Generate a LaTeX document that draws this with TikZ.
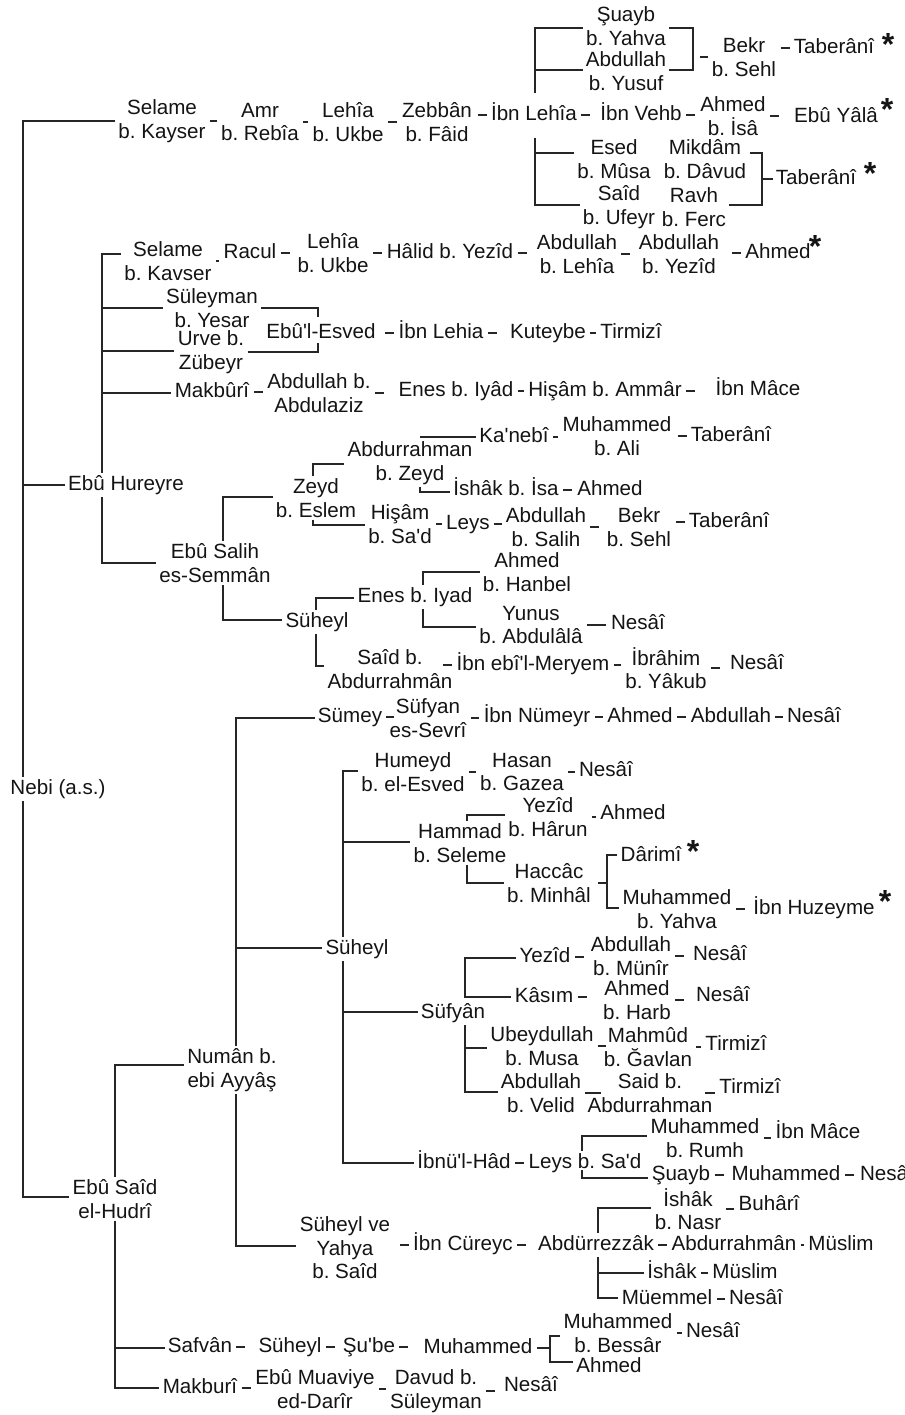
\documentclass[tikz,border=0pt]{standalone}
\usepackage{fontspec}
\setmainfont{Liberation Sans}
\usetikzlibrary{calc}
\frenchspacing
\newcommand\hlink[2]{\draw[ln] let \p1=(#1.east), \p2=(#2.west) in (\x1+0.5pt,\y1) -- ({min(\x1+5pt,\x2-0.5pt)},\y1);}
\newcommand\hlinkr[2]{\draw[ln] let \p1=(#1.east), \p2=(#2.west) in ({max(\x2-5pt,\x1+0.5pt)},\y2) -- (\x2-0.5pt,\y2);}
\newcommand\apo{\textquotesingle}
\begin{document}
\begin{tikzpicture}[x=0.5pt,y=-0.5pt,
 every node/.style={font=\fontsize{10.3pt}{11.75pt}\selectfont\frenchspacing, inner xsep=1.5pt, inner ysep=1pt, align=center, text=black!92, text height=7.5pt, text depth=2.2pt},
 ml/.style={text height={}, text depth={}},
 ln/.style={draw=black!85, line width=0.75pt},
 lk/.style={ln, shorten <=0.75pt, shorten >=0.75pt},
 st/.style={font=\bfseries\fontsize{16pt}{16pt}\selectfont, inner sep=0pt, text height={}, text depth={}}]
\fill[white] (0,0) rectangle (905,1415);
\useasboundingbox (0,0) rectangle (905,1415);

% ---------------- nodes ----------------
\node (nebi) at (58,789) {Nebi (a.s.)};

\node[ml] (s1) at (162,121) {Selame\\b. Kayser};
\node[ml] (s2) at (260,122) {Amr\\b. Rebîa};
\node[ml] (s3) at (348,122) {Lehîa\\b. Ukbe};
\node[ml] (s4) at (437,122) {Zebbân\\b. Fâid};
\node (s5) at (534,115) {İbn Lehîa};
\node (s6) at (641,115) {İbn Vehb};
\node[ml] (s7) at (733,116) {Ahmed\\b. İsâ};
\node (s8) at (836,117) {Ebû Yâlâ};
\node[st] (st2) at (887,109) {*};

\node[ml] (t1) at (626,26) {Şuayb\\b. Yahva};
\node[ml] (t2) at (626,71) {Abdullah\\b. Yusuf};
\node[ml] (t3) at (744,57) {Bekr\\b. Sehl};
\node (t4) at (834,48) {Taberânî};
\node[st] (st1) at (888,44) {*};

\node[ml] (u1) at (614,159) {Esed\\b. Mûsa};
\node[ml] (u2) at (619,207) {Saîd\\b. Ufeyr};
\node[ml] (u3) at (705,159) {Mikdâm\\b. Dâvud};
\node[ml] (u4) at (694,207) {Ravh\\b. Ferc};
\node (u5) at (816,179) {Taberânî};
\node[st] (st3) at (870,173) {*};

\node (eh) at (126,485) {Ebû Hureyre};
\node[ml] (h1) at (168,261) {Selame\\b. Kavser};
\node (h2) at (250,253) {Racul};
\node[ml] (h3) at (333,253) {Lehîa\\b. Ukbe};
\node (h4) at (450,253) {Hâlid b. Yezîd};
\node[ml] (h5) at (577,254) {Abdullah\\b. Lehîa};
\node[ml] (h6) at (679,254) {Abdullah\\b. Yezîd};
\node (h7) at (778,253) {Ahmed};
\node[st] (st4) at (815,246) {*};

\node[ml] (g1) at (212,308) {Süleyman\\b. Yesar};
\node[ml] (g2) at (211,352) {Urve b.\\Zübeyr};
\node (g3) at (321,333) {Ebû\apo l-Esved};
\node (g4) at (441,333) {İbn Lehia};
\node (g5) at (548,333) {Kuteybe};
\node (g6) at (631,333) {Tirmizî};

\node (m1) at (212,392) {Makbûrî};
\node[ml] (m2) at (319,393) {Abdullah b.\\Abdulaziz};
\node (m3) at (456,391) {Enes b. Iyâd};
\node (m4) at (605,391) {Hişâm b. Ammâr};
\node (m5) at (758,390) {İbn Mâce};

\node[ml] (k1) at (410,463) {Abdurrahman\\b. Zeyd};
\node (k2) at (514,437) {Ka\apo nebî};
\node[ml] (k3) at (617,436) {Muhammed\\b. Ali};
\node (k4) at (731,436) {Taberânî};

\node[ml] (z1) at (316,498) {Zeyd\\b. Eslem};
\node (z2) at (506,490) {İshâk b. İsa};
\node (z3) at (610,490) {Ahmed};
\node[ml] (z4) at (400,524) {Hişâm\\b. Sa\apo d};
\node (z5) at (468,524) {Leys};
\node[ml] (z6) at (546,527) {Abdullah\\b. Salih};
\node[ml] (z7) at (639,527) {Bekr\\b. Sehl};
\node (z8) at (729,522) {Taberânî};

\node[ml] (es) at (215,563) {Ebû Salih\\es-Semmân};
\node (sh) at (317,622) {Süheyl};
\node (en) at (415,597) {Enes b. Iyad};
\node[ml] (ah) at (527,572) {Ahmed\\b. Hanbel};
\node[ml] (yn) at (531,625) {Yunus\\b. Abdulâlâ};
\node (ns1) at (638,624) {Nesâî};
\node[ml] (sd) at (390,669) {Saîd b.\\Abdurrahmân};
\node (im) at (533,665) {İbn ebî\apo l-Meryem};
\node[ml] (ib) at (666,668) {İbrâhim\\b. Yâkub};
\node (ns2) at (757,664) {Nesâî};

\node[ml] (ebs) at (115,1199) {Ebû Saîd\\el-Hudrî};
\node[ml] (num) at (232,1070) {Numân b.\\ebi Ayyâş};
\node (sm) at (350,717) {Sümey};
\node[ml] (sf1) at (428,718) {Süfyan\\es-Sevrî};
\node (ir) at (537,717) {İbn Nümeyr};
\node (ah2) at (640,717) {Ahmed};
\node (ab2) at (731,717) {Abdullah};
\node (ns3) at (814,717) {Nesâî};

\node (sh2) at (357,949) {Süheyl};
\node[ml] (hm) at (413,772) {Humeyd\\b. el-Esved};
\node[ml] (hs) at (522,772) {Hasan\\b. Gazea};
\node (ns4) at (606,771) {Nesâî};
\node[ml] (hd) at (460,843) {Hammad\\b. Seleme};
\node[ml] (yz) at (548,817) {Yezîd\\b. Hârun};
\node (ah3) at (633,814) {Ahmed};
\node[ml] (hc) at (549,883) {Haccâc\\b. Minhâl};
\node (dr) at (651,856) {Dârimî};
\node[st] (st5) at (693,851) {*};
\node[ml] (my) at (677,909) {Muhammed\\b. Yahva};
\node (ihz) at (814,909) {İbn Huzeyme};
\node[st] (st6) at (885,901) {*};

\node (sfy) at (453,1013) {Süfyân};
\node (yz2) at (545,957) {Yezîd};
\node[ml] (ab4) at (631,956) {Abdullah\\b. Münîr};
\node (ns5) at (720,955) {Nesâî};
\node (ks) at (544,997) {Kâsım};
\node[ml] (ah4) at (637,1000) {Ahmed\\b. Harb};
\node (ns6) at (723,996) {Nesâî};
\node[ml] (ub) at (542,1046) {Ubeydullah\\b. Musa};
\node[ml] (mh) at (648,1047) {Mahmûd\\b. Ğavlan};
\node (tr1) at (736,1045) {Tirmizî};
\node[ml] (ab3) at (541,1093) {Abdullah\\b. Velid};
\node[ml] (sd2) at (650,1093) {Said b.\\Abdurrahman};
\node (tr2) at (750,1088) {Tirmizî};

\node (ih) at (464,1163) {İbnü\apo l-Hâd};
\node (ly) at (585,1163) {Leys b. Sa\apo d};
\node[ml] (mr) at (705,1138) {Muhammed\\b. Rumh};
\node (im2) at (818,1133) {İbn Mâce};
\node (sy2) at (681,1175) {Şuayb};
\node (mu2) at (786,1175) {Muhammed};
\node (ns7) at (887,1175) {Nesâî};

\node[ml] (sy) at (345,1248) {Süheyl ve\\Yahya\\b. Saîd};
\node (ic) at (463,1245) {İbn Cüreyc};
\node (ak) at (596,1245) {Abdürrezzâk};
\node (ar) at (734,1245) {Abdurrahmân};
\node (msl) at (841,1245) {Müslim};
\node[ml] (is1) at (688,1209) {İshâk\\b. Nasr};
\node (bh) at (769,1205) {Buhârî};
\node (is2) at (672,1273) {İshâk};
\node (ms2) at (745,1273) {Müslim};
\node (me) at (667,1299) {Müemmel};
\node (ns8) at (756,1299) {Nesâî};

\node (sf) at (200,1347) {Safvân};
\node (sh3) at (290,1347) {Süheyl};
\node (sb) at (369,1347) {Şu\apo be};
\node (mu3) at (478,1348) {Muhammed};
\node[ml] (mb) at (618,1333) {Muhammed\\b. Bessâr};
\node (ahm) at (609,1367) {Ahmed};
\node (ns9) at (713,1332) {Nesâî};

\node (mk2) at (200,1388) {Makburî};
\node[ml] (ema) at (315,1389) {Ebû Muaviye\\ed-Darîr};
\node[ml] (dv) at (436,1391) {Davud b.\\Süleyman};
\node (ns10) at (531,1386) {Nesâî};

% ---------------- connectors ----------------
% Nebi spine
\coordinate (N1) at (23,121);
\coordinate (N2) at (23,1197);
\draw[ln] (N1 -| s1.west) -- (N1) -- (N1 |- nebi.north);
\draw[ln] (N1 |- nebi.south) -- (N2) -- (N2 -| ebs.west);
\draw[ln] (N1 |- eh.west) -- (eh.west);

% Selame b. Kayser chain
\hlink{s1}{s2} \hlink{s2}{s3} \hlink{s3}{s4} \hlinkr{s4}{s5}
\hlink{s5}{s6} \hlink{s6}{s7} \hlink{s7}{s8}
\coordinate (T1) at (535,93); \coordinate (T2) at (535,28); \coordinate (T3) at (535,70);
\draw[ln] (T1) -- (T2) -- (T2 -| t1.west);
\draw[ln] (T3) -- (T3 -| t2.west);
\coordinate (R1) at (693,28); \coordinate (R2) at (693,70);
\draw[ln] (R1 -| t1.east) -- (R1) -- (R2) -- (R2 -| t2.east);
\draw[ln] ([xshift=-0.5pt]t3.west) -- ++(-8,0);
\hlinkr{t3}{t4}
\coordinate (U1) at (535,138); \coordinate (U2) at (535,153); \coordinate (U3) at (535,205);
\draw[ln] (U1) -- (U3) -- (U3 -| u2.west);
\draw[ln] (U2) -- (U2 -| u1.west);
\coordinate (V1) at (762,153); \coordinate (V2) at (762,205); \coordinate (V3) at (762,179);
\draw[ln] (V1 -| u3.east) -- (V1) -- (V2) -- (V2 -| u4.east);
\draw[ln] (V3) -- (V3 -| u5.west);

% Ebu Hureyre spine
\coordinate (H1) at (102,254); \coordinate (H2) at (102,308); \coordinate (H3) at (102,351);
\coordinate (H4) at (102,393); \coordinate (H5) at (102,563);
\draw[ln] (H1 -| h1.west) -- (H1) -- (H1 |- eh.north);
\draw[ln] (H1 |- eh.south) -- (H5) -- (H5 -| es.west);
\draw[ln] (H2) -- (H2 -| g1.west);
\draw[ln] (H3) -- (H3 -| g2.west);
\draw[ln] (H4) -- (H4 -| m1.west);
\hlink{h1}{h2} \hlink{h2}{h3} \hlinkr{h3}{h4} \hlink{h4}{h5} \hlink{h5}{h6} \hlinkr{h6}{h7}

\coordinate (G1) at (318,308); \coordinate (G2) at (318,317);
\coordinate (G3) at (318,352); \coordinate (G4) at (318,343);
\draw[ln] (G1 -| g1.east) -- (G1) -- (G2);
\draw[ln] (G3 -| g2.east) -- (G3) -- (G4);
\hlinkr{g3}{g4} \hlink{g4}{g5} \hlink{g5}{g6}
\hlink{m1}{m2} \hlink{m2}{m3} \hlink{m3}{m4} \hlink{m4}{m5}

\coordinate (K1) at (420,437);
\draw[ln] (K1) -- (K1 -| k2.west);
\hlink{k2}{k3} \hlinkr{k3}{k4}

\coordinate (E1) at (223,497); \coordinate (E2) at (223,620);
\draw[ln] (E1 -| z1.west) -- (E1) -- (E1 |- es.north);
\draw[ln] (E2 |- es.south) -- (E2) -- (E2 -| sh.west);
\coordinate (Z2) at (313,464); \coordinate (Z4) at (313,525); \coordinate (Z6) at (420,492);
\draw[ln] (z1.north -| Z2) -- (Z2) -- (Z2 -| k1.west);
\draw[ln] (z1.south -| Z4) -- (Z4) -- (Z4 -| z4.west);
\draw[ln] (k1.south -| Z6) -- (Z6) -- (Z6 -| z2.west);
\hlink{z2}{z3} \hlinkr{z4}{z5} \hlink{z5}{z6} \hlink{z6}{z7} \hlinkr{z7}{z8}

\coordinate (Q1) at (316,598); \coordinate (Q2) at (316,666);
\draw[ln] (sh.north -| Q1) -- (Q1) -- (Q1 -| en.west);
\draw[ln] (sh.south -| Q1) -- (Q2) -- (Q2 -| sd.west);
\coordinate (P1) at (423,572); \coordinate (P2) at (423,627);
\draw[ln] (en.north -| P1) -- (P1) -- (P1 -| ah.west);
\draw[ln] (en.south -| P1) -- (P2) -- (P2 -| yn.west);
\draw[lk] (yn.east) -- (yn.east -| ns1.west);
\draw[ln] ([xshift=-0.5pt]im.west) -- ++(-9,0);
\hlink{im}{ib} \hlink{ib}{ns2}

% Ebu Said el-Hudri
\coordinate (A1) at (115,1065); \coordinate (A2) at (115,1348); \coordinate (A3) at (115,1388);
\draw[ln] (A1 -| num.west) -- (A1) -- (A1 |- ebs.north);
\draw[ln] (A1 |- ebs.south) -- (A3) -- (A3 -| mk2.west);
\draw[ln] (A2) -- (A2 -| sf.west);

\coordinate (B1) at (236,718); \coordinate (B2) at (236,948); \coordinate (B3) at (236,1246);
\draw[ln] (B1 -| sm.west) -- (B1) -- (B1 |- num.north);
\draw[ln] (B2) -- (B2 -| sh2.west);
\draw[ln] (B1 |- num.south) -- (B3) -- (B3 -| sy.west);

\draw[ln] ([xshift=0.5pt]sm.east) -- ++(8,0);
\hlink{sf1}{ir} \hlink{ir}{ah2} \hlink{ah2}{ab2} \hlink{ab2}{ns3}

\coordinate (C1) at (343,771); \coordinate (C2) at (343,842);
\coordinate (C3) at (343,1012); \coordinate (C4) at (343,1163);
\draw[ln] (C1 -| hm.west) -- (C1) -- (C1 |- sh2.north);
\draw[ln] (C2) -- (C2 -| hd.west);
\draw[ln] (C1 |- sh2.south) -- (C4) -- (C4 -| ih.west);
\draw[ln] (C3) -- (C3 -| sfy.west);
\hlink{hm}{hs} \hlink{hs}{ns4}

\coordinate (D1) at (467,815); \coordinate (D2) at (467,883);
\draw[ln] (hd.north -| D1) -- (D1) -- (D1 -| yz.west);
\draw[ln] (hd.south -| D1) -- (D2) -- (D2 -| hc.west);
\hlink{yz}{ah3}
\coordinate (D3) at (607,855); \coordinate (D4) at (607,908);
\draw[ln] ([xshift=2pt]hc.east) -- (hc.east -| D3);
\draw[ln] (D3 -| dr.west) -- (D3) -- (D4) -- (D4 -| my.west);
\hlink{my}{ihz}

\coordinate (F1) at (465,958); \coordinate (F2) at (465,997);
\coordinate (F3) at (465,1048); \coordinate (F4) at (465,1092);
\draw[ln] (F1 -| yz2.west) -- (F1) -- (F2) -- (F2 -| ks.west);
\draw[ln] (F2 |- sfy.south) -- (F4) -- (F4 -| ab3.west);
\draw[ln] (F3) -- (F3 -| ub.west);
\hlink{yz2}{ab4} \hlink{ab4}{ns5} \hlink{ks}{ah4} \hlink{ah4}{ns6}
\draw[ln] ([xshift=0.5pt]ub.east) -- ++(8,0);
\hlink{mh}{tr1}
\draw[ln] ([xshift=0.5pt]ab3.east) -- ++(16,0);
\draw[ln] ([xshift=-0.5pt,yshift=-2.5pt]tr2.west) -- ++(-10,0);

\hlink{ih}{ly}
\coordinate (L1) at (582,1136); \coordinate (L3) at (582,1170); \coordinate (L2) at (582,1178);
\draw[ln] (ly.north -| L1) -- (L1) -- (L1 -| mr.west);
\draw[ln] (L3) -- (L2) -- (L2 -| sy2.west);
\hlink{mr}{im2} \hlink{sy2}{mu2} \hlink{mu2}{ns7}

\hlinkr{sy}{ic} \hlink{ic}{ak} \hlink{ak}{ar} \hlink{ar}{msl}
\coordinate (W1) at (598,1208); \coordinate (W2) at (598,1273); \coordinate (W3) at (598,1298);
\draw[ln] (ak.north -| W1) -- (W1) -- (W1 -| is1.west);
\draw[ln] (ak.south -| W1) -- (W3) -- (W3 -| me.west);
\draw[ln] (W2) -- (W2 -| is2.west);
\hlink{is1}{bh} \hlink{is2}{ms2} \hlink{me}{ns8}

\hlink{sf}{sh3} \hlink{sh3}{sb} \hlink{sb}{mu3}
\coordinate (X1) at (550,1336); \coordinate (X2) at (550,1362);
\draw[ln] ([xshift=0.5pt]mu3.east) -- (mu3.east -| X1);
\draw[ln] (X1 -| mb.west) -- (X1) -- (X2) -- (X2 -| ahm.west);
\hlink{mb}{ns9}
\hlink{mk2}{ema} \hlink{ema}{dv} \hlink{dv}{ns10}
\end{tikzpicture}
\end{document}
